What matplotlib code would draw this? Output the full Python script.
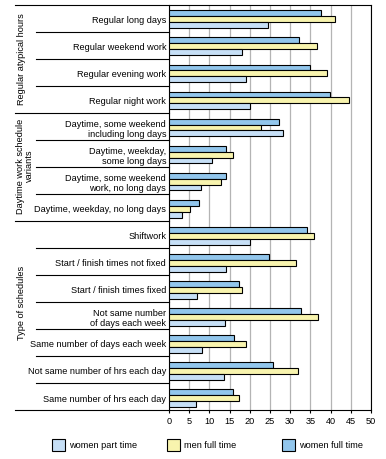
import numpy as np
import matplotlib
matplotlib.use("Agg")
from matplotlib import pyplot as plt
from matplotlib.patches import Rectangle
from matplotlib.transforms import blended_transform_factory

plt.rcParams['font.family'] = ['Liberation Sans', 'DejaVu Sans']

categories = [
    "Regular long days",
    "Regular weekend work",
    "Regular evening work",
    "Regular night work",
    "Daytime, some weekend\nincluding long days",
    "Daytime, weekday,\nsome long days",
    "Daytime, some weekend\nwork, no long days",
    "Daytime, weekday, no long days",
    "Shiftwork",
    "Start / finish times not fixed",
    "Start / finish times fixed",
    "Not same number\nof days each week",
    "Same number of days each week",
    "Not same number of hrs each day",
    "Same number of hrs each day",
]

women_full = [37.6, 32.2, 34.9, 39.9, 27.2, 14.1, 14.1, 7.4,
              34.2, 24.8, 17.3, 32.7, 16.1, 25.7, 15.8]
men_full = [41.1, 36.6, 39.1, 44.6, 22.8, 15.8, 12.9, 5.2,
            35.9, 31.4, 18.1, 36.9, 19.1, 31.9, 17.3]
women_part = [24.6, 18.1, 19.1, 20.0, 28.2, 10.6, 7.9, 3.2,
              20.0, 14.1, 6.9, 13.9, 8.2, 13.7, 6.7]

groups = ["Regular atypical hours", "Daytime work schedule\nvariants", "Type of schedules"]
group_sizes = [4, 4, 7]

c_wf = "#92C6EC"
c_mf = "#F8F4AE"
c_wp = "#C6DFF6"

W, H = 386, 460
fig = plt.figure(figsize=(W / 100, H / 100), dpi=100)
ax = fig.add_axes([169 / W, 1 - 411 / H, 202 / W, 405.5 / H])

y = np.arange(len(categories))
bh = 0.22
kw = dict(height=bh, edgecolor="black", linewidth=0.8, zorder=3)
b1 = ax.barh(y - 0.17, women_full, color=c_wf, **kw)
b2 = ax.barh(y + 0.05, men_full, color=c_mf, **kw)
b3 = ax.barh(y + 0.27, women_part, color=c_wp, **kw)

ax.set_xlim(0, 50)
ax.set_ylim(len(categories) - 0.5, -0.5)
ax.set_xticks(np.arange(0, 51, 5))
ax.xaxis.grid(True, color="#b4b4b4", linewidth=0.9, zorder=0)
ax.set_axisbelow(True)
ax.tick_params(axis="x", length=2.5, width=0.8, pad=1.5, labelsize=6.6)
ax.set_yticks(y + 0.02)
ax.set_yticklabels(categories, fontsize=6.6, ha="right", multialignment="right")
ax.tick_params(axis="y", length=0, pad=2)

for s in ["left", "right"]:
    ax.spines[s].set_linewidth(0.8)
ax.spines["top"].set_visible(False)
ax.spines["bottom"].set_visible(False)

trans = blended_transform_factory(ax.transAxes, ax.transData)
xg = (15 - 169) / 202
xc = (36 - 169) / 202
ax.plot([xg, 1], [-0.5, -0.5], color="black", lw=0.8, transform=trans, clip_on=False)
ax.plot([xg, 1], [len(categories) - 0.5] * 2, color="black", lw=0.8, transform=trans, clip_on=False)
bounds = np.cumsum(group_sizes)[:-1]
for i in range(1, len(categories)):
    x0 = xg if i in bounds else xc
    ax.plot([x0, 0], [i - 0.5, i - 0.5], color="black", lw=0.8, transform=trans, clip_on=False)

# group labels
fig.text(22 / W, 1 - 59 / H, groups[0], rotation=90, ha="center", va="center", fontsize=6.6)
fig.text(25 / W, 1 - 166 / H, groups[1], rotation=90, ha="center", va="center",
         fontsize=6.6, multialignment="center", linespacing=1.0)
fig.text(22 / W, 1 - 303 / H, groups[2], rotation=90, ha="center", va="center", fontsize=6.6)

# legend
leg_items = [("women part time", c_wp, 52), ("men full time", c_mf, 167), ("women full time", c_wf, 282)]
for lab, col, px in leg_items:
    fig.add_artist(Rectangle((px / W, 1 - 452 / H), 13 / W, 12 / H, transform=fig.transFigure,
                             facecolor=col, edgecolor="black", linewidth=0.8))
    fig.text((px + 17) / W, 1 - 446 / H, lab, ha="left", va="center", fontsize=6.6)

fig.savefig("out.png", dpi=100)
